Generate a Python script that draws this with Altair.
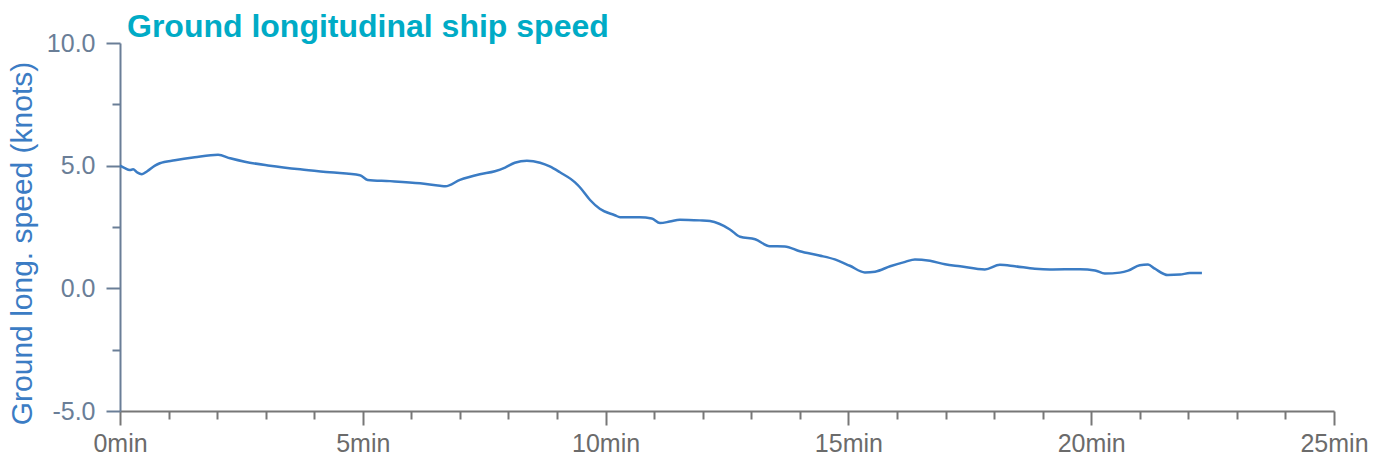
import altair as alt
import pandas as pd

minutes = [0.0, 0.1, 0.2, 0.27, 0.35, 0.45, 0.56, 0.72, 0.82, 1.13, 1.54, 2.02, 2.27, 2.57,
           3.09, 3.71, 4.32, 4.94, 5.1, 5.56, 6.18, 6.59, 6.7, 7.0, 7.41, 7.72, 7.93, 8.13,
           8.38, 8.65, 8.85, 9.06, 9.37, 9.47, 9.68, 9.88, 10.19, 10.3, 10.7, 10.95, 11.12,
           11.32, 11.53, 11.94, 12.15, 12.56, 12.77, 13.08, 13.38, 13.69, 14.0, 14.4, 14.72,
           15.03, 15.34, 15.55, 15.86, 16.17, 16.37, 16.68, 16.99, 17.3, 17.81, 18.12, 18.43,
           18.84, 19.15, 19.77, 20.08, 20.28, 20.59, 20.76, 21.0, 21.17, 21.31, 21.58, 21.83,
           22.03, 22.28]
speed = [5.0, 4.9, 4.82, 4.85, 4.73, 4.65, 4.77, 5.0, 5.1, 5.22, 5.34, 5.44, 5.3, 5.16,
         5.0, 4.85, 4.73, 4.61, 4.42, 4.37, 4.28, 4.18, 4.16, 4.42, 4.65, 4.77, 4.92, 5.12,
         5.2, 5.12, 4.97, 4.73, 4.32, 4.12, 3.6, 3.24, 2.98, 2.9, 2.9, 2.85, 2.66,
         2.72, 2.8, 2.77, 2.74, 2.4, 2.1, 2.0, 1.72, 1.71, 1.51, 1.34, 1.18,
         0.92, 0.65, 0.68, 0.9, 1.08, 1.18, 1.12, 0.98, 0.9, 0.77, 0.96, 0.9,
         0.8, 0.77, 0.78, 0.73, 0.6, 0.64, 0.72, 0.94, 0.97, 0.8, 0.54, 0.56,
         0.62, 0.62]

df = pd.DataFrame({"minutes": minutes, "speed": speed})

x_ticks = list(range(0, 26))
y_ticks = [-5, -2.5, 0, 2.5, 5, 7.5, 10]

chart = alt.Chart(df).mark_line(
    color="#3b7cc4", strokeWidth=2.5, interpolate="monotone"
).encode(
    x=alt.X("minutes:Q",
            scale=alt.Scale(domain=[0, 25], nice=False, zero=False),
            axis=alt.Axis(
                values=x_ticks,
                labelExpr="datum.value % 5 === 0 ? datum.value + 'min' : ''",
                title=None, grid=False,
                domainColor="#777777", domainWidth=2,
                tickColor="#777777", tickWidth=2,
                tickSize={"condition": {"test": "datum.value % 5 === 0", "value": 14}, "value": 8},
                labelColor="#6b6b6b", labelFont="Liberation Sans", labelFontSize=25,
                labelPadding=6, labelFlush=False, labelOverlap=False,
            )),
    y=alt.Y("speed:Q",
            scale=alt.Scale(domain=[-5, 10], nice=False, zero=False),
            axis=alt.Axis(
                values=y_ticks,
                labelExpr="datum.value % 5 === 0 ? (datum.value < 0 ? '-' + format(-datum.value, '.1f') : format(datum.value, '.1f')) : ''",
                title="Ground long. speed (knots)",
                titleColor="#3b7cc4", titleFont="Liberation Sans", titleFontSize=30,
                titleFontWeight="normal",
                titleX=-98, titleY=200, titleAngle=270, titleAlign="center",
                titleBaseline="middle",
                grid=False,
                domainColor="#6a7e97", domainWidth=2,
                tickColor="#6a7e97", tickWidth=2,
                tickSize={"condition": {"test": "datum.value % 5 === 0", "value": 14}, "value": 8},
                labelColor="#6a7e97", labelFont="Liberation Sans", labelFontSize=25,
                labelPadding=11, labelFlush=False, labelOverlap=False,
            )),
).properties(
    width=1214,
    height=368,
    autosize=alt.AutoSizeParams(type="none"),
    padding={"left": 112, "top": 35, "right": 42, "bottom": 44},
    title=alt.TitleParams(
        "Ground longitudinal ship speed",
        anchor="start", frame="group", color="#00abc6", font="Liberation Sans",
        fontSize=32, fontWeight="bold", dx=7, dy=21, offset=8,
    ),
).configure_view(stroke=None)

chart.save("out.html", embed_options={"renderer": "svg", "actions": False})
